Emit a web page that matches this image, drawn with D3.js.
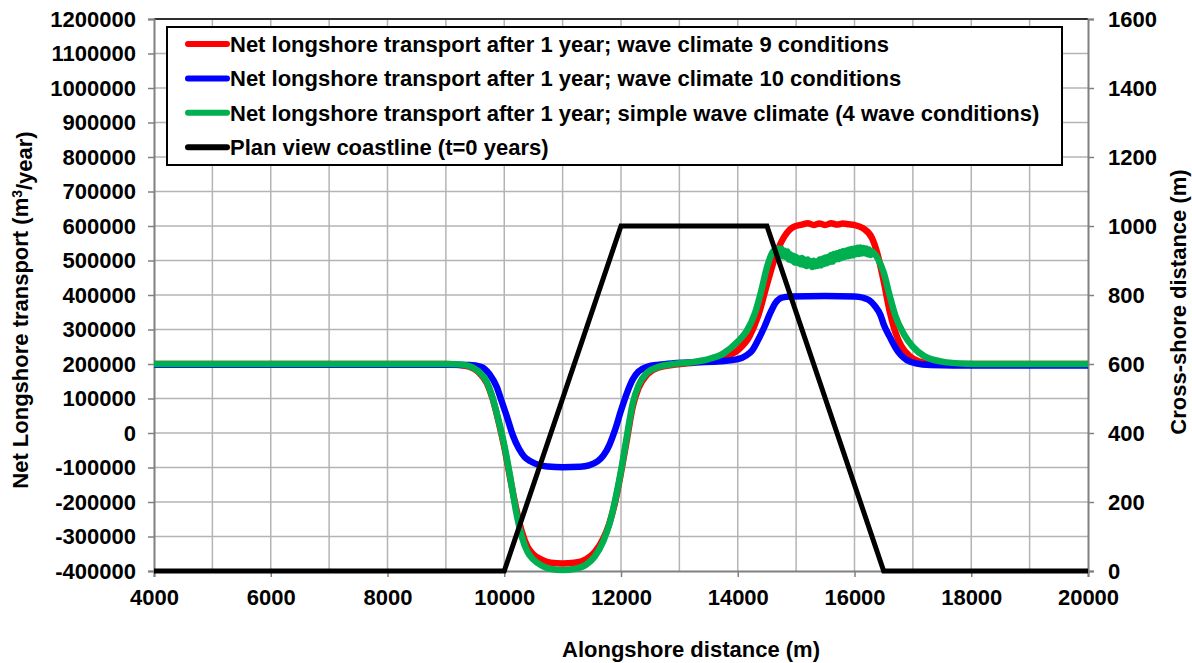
<!DOCTYPE html>
<html>
<head>
<meta charset="utf-8">
<script src="https://cdn.jsdelivr.net/npm/d3@7"></script>
<style>
  html, body { margin: 0; padding: 0; background: #fff; }
  svg { display: block; }
  text { font-family: "Liberation Sans", Arial, sans-serif; font-weight: bold; fill: #000; }
</style>
</head>
<body>
<svg id="chart" width="1192" height="663"></svg>
<script>
// Alongshore distance ticks and axis ranges
const xTicks = [4000, 6000, 8000, 10000, 12000, 14000, 16000, 18000, 20000];
const leftTicks = [-400000, -300000, -200000, -100000, 0, 100000, 200000, 300000, 400000, 500000,
                   600000, 700000, 800000, 900000, 1000000, 1100000, 1200000];
const rightTicks = [0, 200, 400, 600, 800, 1000, 1200, 1400, 1600];

// Net longshore transport, wave climate 9 conditions (m3/year)
const redX = [4000, 9000, 9200, 9400, 9550, 9700, 9800, 9900, 10000, 10100, 10200, 10300, 10400, 10500,
  10650, 10800, 11000, 11200, 11400, 11550, 11700, 11800, 11900, 12000, 12100, 12200, 12300, 12450,
  12650, 12900, 13200, 13500, 13750, 14000, 14200, 14350, 14500, 14650, 14800, 14950, 15100, 15200,
  15300, 15400, 15500, 15600, 15700, 15800, 15900, 16000, 16150, 16300, 16400, 16500, 16600, 16700,
  16800, 16950, 17100, 17300, 17600, 20000];
const redQ = [200000, 200000, 198000, 192000, 178000, 145000, 100000, 35000, -40000, -130000, -215000,
  -285000, -330000, -352000, -368000, -376000, -378000, -376000, -366000, -345000, -305000, -262000,
  -200000, -115000, -20000, 75000, 130000, 170000, 190000, 198000, 203000, 210000, 220000, 240000,
  280000, 340000, 430000, 515000, 570000, 597000, 604000, 608000, 603000, 607000, 603000, 608000,
  604000, 607000, 605000, 603000, 593000, 565000, 515000, 440000, 355000, 292000, 253000, 222000,
  208000, 202000, 200000, 200000];

// Net longshore transport, wave climate 10 conditions (m3/year)
const blueX = [4000, 9000, 9400, 9600, 9750, 9870, 9950, 10050, 10150, 10250, 10350, 10450, 10600,
  10750, 11000, 11300, 11450, 11600, 11700, 11800, 11900, 12000, 12100, 12200, 12300, 12450, 12650,
  12900, 13300, 13700, 14000, 14150, 14250, 14350, 14450, 14550, 14650, 14750, 14900, 15500, 16000,
  16150, 16250, 16350, 16450, 16500, 16600, 16700, 16800, 16900, 17050, 17300, 17700, 20000];
const blueQ = [198000, 198000, 197000, 192000, 170000, 134000, 95000, 45000, -8000, -45000, -70000,
  -82000, -93000, -97000, -99000, -98000, -94000, -82000, -65000, -35000, 10000, 65000, 115000,
  155000, 178000, 192000, 198000, 202000, 205000, 208000, 214000, 225000, 240000, 270000, 305000,
  345000, 378000, 392000, 396000, 397000, 396000, 392000, 385000, 368000, 340000, 315000, 280000,
  248000, 225000, 211000, 202000, 197000, 196000, 196000];

// Net longshore transport, simple wave climate with 4 wave conditions (m3/year)
const greenX = [4000, 9000, 9200, 9400, 9550, 9700, 9800, 9900, 10000, 10100, 10200, 10300, 10400,
  10500, 10650, 10800, 11000, 11200, 11400, 11550, 11700, 11800, 11900, 12000, 12100, 12200, 12300,
  12450, 12650, 12900, 13200, 13500, 13750, 14000, 14150, 14300, 14400, 14500, 14600,
  14700, 14725, 14750, 14775, 14800, 14825, 14850, 14875, 14900, 14925, 14950, 14975,
  15000, 15025, 15050, 15075, 15100, 15125, 15150, 15175, 15200, 15225, 15250, 15275,
  15300, 15325, 15350, 15375, 15400, 15425, 15450, 15475, 15500, 15525, 15550, 15575,
  15600, 15625, 15650, 15675, 15700, 15725, 15750, 15775, 15800, 15825, 15850, 15875,
  15900, 15925, 15950, 15975, 16000, 16025, 16050, 16075, 16100, 16125, 16150, 16175,
  16200, 16225, 16250, 16275, 16300, 16350, 16400, 16500, 16600, 16700, 16850, 17000, 17200, 17500,
  17900, 18200, 20000];
const greenQ = [200000, 200000, 199000, 194000, 180000, 148000, 102000, 38000, -35000, -125000,
  -225000, -300000, -345000, -367000, -385000, -394000, -397000, -394000, -382000, -358000, -312000,
  -265000, -195000, -110000, -10000, 85000, 138000, 175000, 192000, 200000, 205000, 214000, 230000,
  265000, 295000, 350000, 410000, 480000, 525000,
  535000, 518000, 534000, 512000, 528000, 510000, 526000, 503000, 518000, 500000, 514000, 494000,
  511000, 493000, 506000, 489000, 507000, 488000, 502000, 484000, 503000, 486000, 498000, 481000,
  499000, 483000, 497000, 485000, 503000, 486000, 505000, 490000, 509000, 492000, 511000, 496000,
  516000, 497000, 519000, 503000, 521000, 504000, 524000, 507000, 527000, 510000, 528000, 512000,
  531000, 514000, 533000, 515000, 535000, 518000, 537000, 519000, 538000, 520000, 536000, 521000,
  535000, 518000, 532000, 516000, 526000, 518000, 505000, 465000, 400000, 340000, 285000, 250000,
  222000, 207000, 201000, 200000, 200000];

// Plan view coastline at t=0 (cross-shore distance, m)
const coastX = [4000, 10000, 12000, 14500, 16500, 20000];
const coastY = [0, 0, 1000, 1000, 0, 0];

const legendLabels = [
  "Net longshore transport after 1 year; wave climate 9 conditions",
  "Net longshore transport after 1 year; wave climate 10 conditions",
  "Net longshore transport after 1 year; simple wave climate (4 wave conditions)",
  "Plan view coastline (t=0 years)"
];
const seriesColors = ["#ff0000", "#0000ff", "#00b050", "#000000"];

const svg = d3.select("#chart");
const plot = { left: 154, right: 1088, top: 19, bottom: 571 };
const FONT = "22px";

const x = d3.scaleLinear().domain([4000, 20000]).range([plot.left, plot.right]);
const yL = d3.scaleLinear().domain([-400000, 1200000]).range([plot.bottom, plot.top]);
const yR = d3.scaleLinear().domain([0, 1600]).range([plot.bottom, plot.top]);

// Grid lines
const grid = svg.append("g");
grid.selectAll("line.v").data(d3.range(5000, 20000, 1000)).enter().append("line")
  .attr("x1", d => x(d)).attr("x2", d => x(d))
  .attr("y1", plot.top).attr("y2", plot.bottom)
  .attr("stroke", "#b4b4b4").attr("stroke-width", 1.5);
grid.selectAll("line.h").data(leftTicks.slice(1)).enter().append("line")
  .attr("x1", plot.left).attr("x2", plot.right)
  .attr("y1", d => yL(d)).attr("y2", d => yL(d))
  .attr("stroke", d => d === 1200000 ? "#303030" : "#b4b4b4")
  .attr("stroke-width", d => d === 1200000 ? 2 : 1.5);

// Axes (plain hyphen for negative numbers)
const fmt = d => String(d);
const axL = svg.append("g").attr("transform", `translate(${plot.left},0)`)
  .call(d3.axisLeft(yL).tickValues(leftTicks).tickFormat(fmt).tickSize(6).tickPadding(12));
const axR = svg.append("g").attr("transform", `translate(${plot.right},0)`)
  .call(d3.axisRight(yR).tickValues(rightTicks).tickFormat(fmt).tickSize(6).tickPadding(14));
const axB = svg.append("g").attr("transform", `translate(0,${plot.bottom})`)
  .call(d3.axisBottom(x).tickValues(xTicks).tickFormat(fmt).tickSize(6).tickPadding(12));
[axL, axR, axB].forEach(a => {
  a.select(".domain").attr("stroke", "#808080").attr("stroke-width", 2);
  a.selectAll(".tick line").attr("stroke", "#808080").attr("stroke-width", 1.5);
  a.selectAll(".tick text").style("font-size", FONT).style("font-family", "'Liberation Sans', Arial, sans-serif")
    .style("font-weight", "bold").attr("fill", "#000");
});

// Series
const lineL = d3.line().x(d => x(d[0])).y(d => yL(d[1])).curve(d3.curveMonotoneX);
const lineR = d3.line().x(d => x(d[0])).y(d => yR(d[1]));
const zip = (a, b) => a.map((v, i) => [v, b[i]]);

svg.append("path").datum(zip(redX, redQ)).attr("d", lineL)
  .attr("fill", "none").attr("stroke", seriesColors[0]).attr("stroke-width", 6.5).attr("stroke-linejoin", "round");
svg.append("path").datum(zip(blueX, blueQ)).attr("d", lineL)
  .attr("fill", "none").attr("stroke", seriesColors[1]).attr("stroke-width", 6.5).attr("stroke-linejoin", "round");
svg.append("path").datum(zip(greenX, greenQ)).attr("d", lineL)
  .attr("fill", "none").attr("stroke", seriesColors[2]).attr("stroke-width", 6.5).attr("stroke-linejoin", "round");
svg.append("path").datum(zip(coastX, coastY)).attr("d", lineR)
  .attr("fill", "none").attr("stroke", seriesColors[3]).attr("stroke-width", 5).attr("stroke-linejoin", "miter");

// Legend
const lg = svg.append("g");
lg.append("rect").attr("x", 167).attr("y", 27).attr("width", 895).attr("height", 138)
  .attr("fill", "#fff").attr("stroke", "#000").attr("stroke-width", 2);
legendLabels.forEach((lab, i) => {
  const cy = 44 + i * 34.4;
  lg.append("line").attr("x1", 188).attr("x2", 227).attr("y1", cy).attr("y2", cy)
    .attr("stroke", seriesColors[i]).attr("stroke-width", 6).attr("stroke-linecap", "round");
  lg.append("text").attr("x", 230).attr("y", cy).attr("dy", "0.35em")
    .style("font-size", FONT).text(lab);
});

// Axis titles
svg.append("text").attr("x", 691).attr("y", 657).attr("text-anchor", "middle")
  .style("font-size", FONT).text("Alongshore distance (m)");
const yTitle = svg.append("text").attr("transform", "translate(28,310) rotate(-90)").attr("text-anchor", "middle")
  .style("font-size", FONT);
yTitle.append("tspan").text("Net Longshore transport (m");
yTitle.append("tspan").attr("dy", "-0.45em").style("font-size", "14px").text("3");
yTitle.append("tspan").attr("dy", "0.45em").text("/year)");
svg.append("text").attr("transform", "translate(1186,302) rotate(-90)").attr("text-anchor", "middle")
  .style("font-size", FONT).text("Cross-shore distance (m)");
</script>
</body>
</html>
